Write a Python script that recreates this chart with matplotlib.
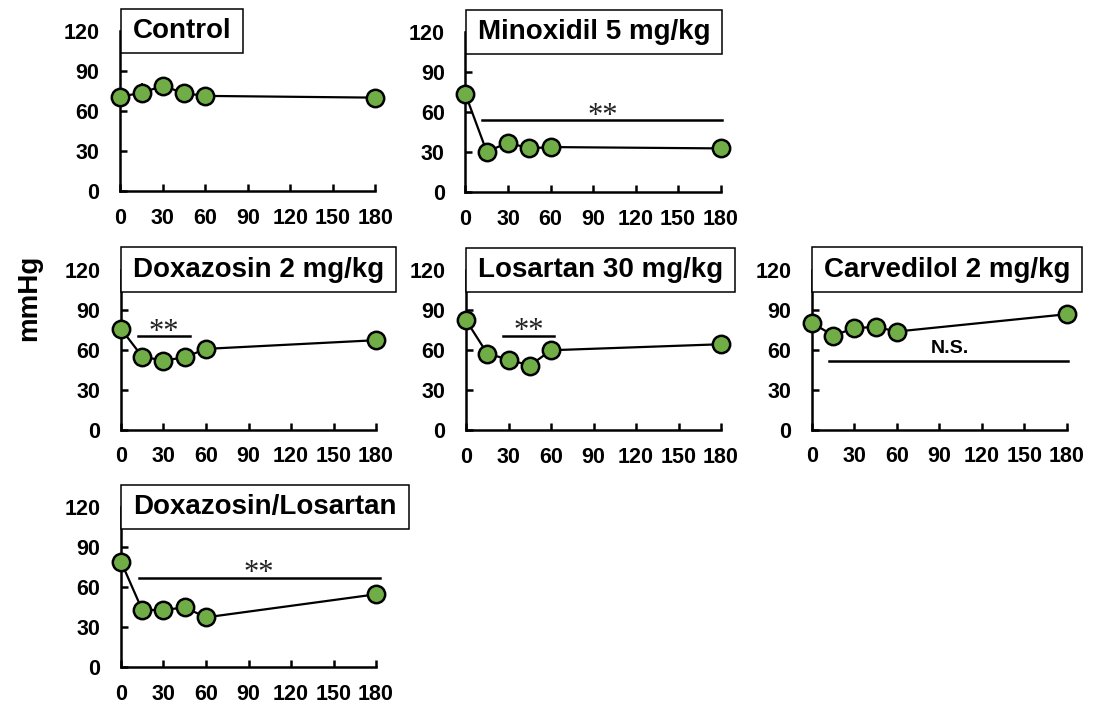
import matplotlib
matplotlib.use("Agg")
import matplotlib.pyplot as plt

plt.rcParams['font.family'] = ['Liberation Sans', 'DejaVu Sans']
plt.rcParams['font.weight'] = 'bold'

# time points (min)
times = [0, 15, 30, 45, 60, 180]

# mean blood pressure (mmHg) per treatment
titles = ['Control', 'Minoxidil 5 mg/kg', 'Doxazosin 2 mg/kg',
          'Losartan 30 mg/kg', 'Carvedilol 2 mg/kg', 'Doxazosin/Losartan']
control = [70.7, 73.7, 78.8, 73.3, 71.3, 70.0]
minoxidil = [73.5, 30.5, 37.3, 33.0, 34.0, 33.0]
doxazosin = [75.5, 54.7, 51.7, 54.2, 60.5, 67.0]
losartan = [82.5, 57.5, 53.0, 48.5, 60.0, 64.5]
carvedilol = [80.0, 70.5, 76.0, 77.0, 73.5, 86.5]
doxa_losa = [79.0, 42.7, 42.7, 44.7, 37.2, 54.5]
control_err = [2, 7, 3, 3, 2, 2]

series = [control, minoxidil, doxazosin, losartan, carvedilol, doxa_losa]

# significance bars: (x start, x end, y, label)
sig_bars = [None,
            (12, 181, 54, '**'),
            (12, 49, 70, '**'),
            (26, 62, 71, '**'),
            (12, 181, 51.5, 'N.S.'),
            (13, 183, 67, '**')]

# axes slots (left, bottom) in figure fraction
slots = [(0.1101, 0.731), (0.4255, 0.729),
         (0.1106, 0.395), (0.4260, 0.394), (0.7422, 0.395),
         (0.1106, 0.0606)]
ax_w, ax_h = 0.2331, 0.2254

fig = plt.figure(figsize=(10.94, 7.10), dpi=100)

for i, (title, vals) in enumerate(zip(titles, series)):
    ax = fig.add_axes([slots[i][0], slots[i][1], ax_w, ax_h])
    if i == 0:
        ax.errorbar(times, vals, yerr=control_err, fmt='none', ecolor='black',
                    elinewidth=1.2, capsize=0, zorder=2, clip_on=False)
    ax.plot(times, vals, '-', color='black', lw=1.6, marker='o', ms=12.5,
            mfc='#70AD47', mec='black', mew=1.8, zorder=3, clip_on=False)

    ax.set_xlim(0, 180)
    ax.set_ylim(0, 120)
    ax.set_xticks(range(0, 181, 30))
    ax.set_yticks(range(0, 121, 30))
    ax.tick_params(direction='in', length=5, width=1.8, labelsize=15.5)
    ax.tick_params(axis='x', pad=12)
    ax.tick_params(axis='y', pad=15)
    for s in ['top', 'right']:
        ax.spines[s].set_visible(False)
    for s in ['left', 'bottom']:
        ax.spines[s].set_linewidth(1.8)

    ax.annotate(title, xy=(0, 1), xycoords='axes fraction',
                xytext=(8.7, 0), textcoords='offset points',
                ha='left', va='center', fontsize=20, fontweight='bold',
                bbox=dict(boxstyle='square,pad=0.43', fc='white', ec='black',
                          lw=1.1, mutation_aspect=0.76),
                zorder=5, annotation_clip=False)

    sb = sig_bars[i]
    if sb is not None:
        x0, x1, y, lab = sb
        ax.plot([x0, x1], [y, y], color='black', lw=1.8, clip_on=False)
        xm = 97 if x1 > 100 else (x0 + x1) / 2
        if lab == 'N.S.':
            ax.text(xm, y + 3, lab, ha='center', va='bottom', fontsize=14,
                    fontweight='bold')
        else:
            ax.text(xm, y - 8, lab, ha='center', va='bottom', fontsize=22,
                    family='Liberation Serif', fontweight='normal', color='#222222')

fig.text(0.027, 0.58, 'mmHg', rotation=90, ha='center', va='center',
         fontsize=20, fontweight='bold')

fig.savefig('out.png', dpi=100)
